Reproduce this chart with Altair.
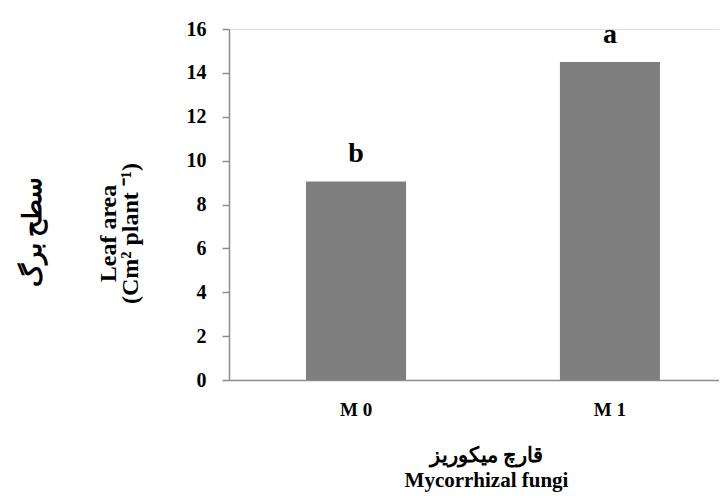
import altair as alt
import pandas as pd

categories = ["M 0", "M 1"]
values = [9.05, 14.5]
letters = ["b", "a"]

df = pd.DataFrame({"cat": categories, "val": values, "letter": letters})

FONT = "Liberation Serif"

x_enc = alt.X(
    "cat:N",
    sort=categories,
    scale=alt.Scale(paddingInner=0.606, paddingOuter=0.268, align=0.566),
    axis=alt.Axis(
        title=["قارچ میکوریز", "Mycorrhizal fungi"],
        titleFont=FONT, titleFontSize=21, titleFontWeight="bold",
        titleColor="black", titleLineHeight=25,
        titleX=257, titleY=64, titleBaseline="top",
        labelAngle=0, labelFont=FONT, labelFontSize=19, labelFontWeight="bold",
        labelColor="black", labelPadding=20,
        ticks=False, domainColor="#8c8c8c", domainWidth=1.5, grid=False,
    ),
)
y_enc = alt.Y(
    "val:Q",
    scale=alt.Scale(domain=[0, 16], nice=False),
    axis=alt.Axis(
        values=[0, 2, 4, 6, 8, 10, 12, 14, 16],
        title=["Leaf area", "(Cm² plant ⁻¹)"],
        titleFont=FONT, titleFontSize=24, titleFontWeight="bold",
        titleColor="black", titleLineHeight=22, titleAngle=270,
        titleX=-133, titleY=204, titleBaseline="top",
        labelFont=FONT, labelFontSize=20, labelFontWeight="bold",
        labelColor="black", labelPadding=16,
        tickSize=7, tickColor="#8c8c8c", tickWidth=1.5,
        domainColor="#8c8c8c", domainWidth=1.5, grid=False,
    ),
)

bars = alt.Chart(df).mark_bar(color="#7f7f7f").encode(x=x_enc, y=y_enc)

labels = alt.Chart(df).mark_text(
    font=FONT, fontSize=28, fontWeight="bold", color="black",
    baseline="alphabetic", dy=-19,
).encode(x=alt.X("cat:N", sort=categories), y="val:Q", text="letter:N")

persian = alt.Chart(pd.DataFrame({"t": ["سطح برگ"]})).mark_text(
    font=FONT, fontSize=26, fontWeight="bold", color="black",
    angle=270, align="center", baseline="middle",
).encode(x=alt.value(-196), y=alt.value(203), text="t:N")

chart = (
    alt.layer(bars, labels, persian)
    .properties(
        width=490, height=351,
        autosize=alt.AutoSizeParams(type="none"),
        padding={"left": 221, "top": 21, "right": 0, "bottom": 112},
    )
    .configure_view(stroke=None)
    .configure(background="white")
)

chart.save("out.html", embed_options={"renderer": "svg", "actions": False})
